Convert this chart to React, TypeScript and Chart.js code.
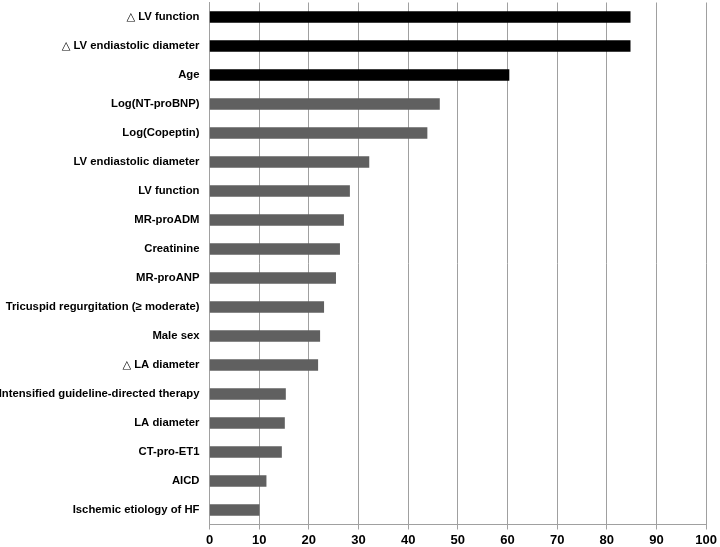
import { useEffect, useRef } from 'react';
import { Chart, registerables } from 'chart.js';

Chart.register(...registerables);

const categories = [
  '△ LV function',
  '△ LV endiastolic diameter',
  'Age',
  'Log(NT-proBNP)',
  'Log(Copeptin)',
  'LV endiastolic diameter',
  'LV function',
  'MR-proADM',
  'Creatinine',
  'MR-proANP',
  'Tricuspid regurgitation (≥ moderate)',
  'Male sex',
  '△ LA diameter',
  'Intensified guideline-directed therapy',
  'LA diameter',
  'CT-pro-ET1',
  'AICD',
  'Ischemic etiology of HF',
];

const importance = [84.7, 84.7, 60.3, 46.3, 43.8, 32.1, 28.2, 27.0, 26.2, 25.4, 23.0, 22.2, 21.8, 15.3, 15.1, 14.5, 11.4, 10.0];

const blackCategories = ['△ LV function', '△ LV endiastolic diameter', 'Age'];

const xMin = 0;
const xMax = 100;
const xStep = 10;

const FONT = "'Liberation Sans', Arial, 'DejaVu Sans', sans-serif";

export default function App() {
  const ref = useRef<HTMLCanvasElement | null>(null);

  useEffect(() => {
    if (!ref.current) return;
    const chart = new Chart(ref.current, {
      type: 'bar',
      data: {
        labels: categories,
        datasets: [
          {
            data: importance,
            backgroundColor: categories.map((c) => (blackCategories.includes(c) ? '#000000' : '#606060')),
            barThickness: 11,
          },
        ],
      },
      options: {
        indexAxis: 'y',
        responsive: false,
        animation: false,
        layout: { padding: { top: 2.5, right: 12.5, left: 0, bottom: 0 } },
        plugins: {
          legend: { display: false },
          tooltip: { enabled: false },
        },
        scales: {
          x: {
            min: xMin,
            max: xMax,
            ticks: {
              stepSize: xStep,
              color: '#000',
              padding: 3,
              font: { family: FONT, size: 13, weight: 'bold' },
            },
            grid: { color: '#a0a0a0', lineWidth: 1, tickLength: 5, tickColor: '#a0a0a0' },
            border: { color: '#a0a0a0' },
            afterFit: (scale: any) => {
              scale.height = 22.5;
            },
          },
          y: {
            ticks: {
              color: '#000',
              padding: 10,
              font: { family: FONT, size: 11.3, weight: 'bold' },
            },
            grid: { display: false, drawTicks: false },
            border: { display: true, color: '#a0a0a0' },
            afterFit: (scale: any) => {
              scale.width = 209.5;
              scale.paddingTop = 0;
              scale.paddingBottom = 0;
            },
          },
        },
      },
    });
    return () => chart.destroy();
  }, []);

  return (
    <div style={{ position: 'fixed', left: 0, top: 0, width: 720, height: 547, background: '#fff' }}>
      <canvas ref={ref} width={720} height={547} style={{ width: 720, height: 547, display: 'block' }} />
    </div>
  );
}
